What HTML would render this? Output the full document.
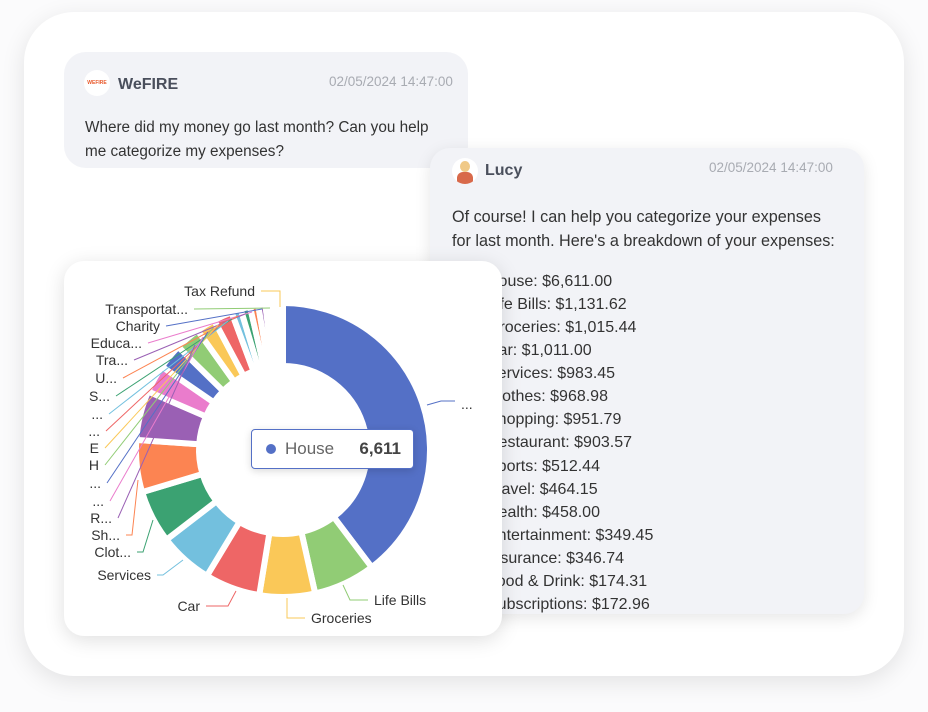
<!DOCTYPE html>
<html><head><meta charset="utf-8"><style>
body{margin:0;width:928px;height:712px;background:#fbfbfc;font-family:"Liberation Sans",sans-serif;position:relative;overflow:hidden}
.outer{position:absolute;left:24px;top:12px;width:880px;height:664px;background:#fff;border-radius:50px;box-shadow:0 6px 24px rgba(0,0,0,0.10)}
.b1{position:absolute;left:64px;top:52px;width:404px;height:116px;background:#f2f3f7;border-radius:22px}
.b2{position:absolute;left:430px;top:148px;width:434px;height:466px;background:#f2f3f7;border-radius:20px;box-shadow:0 4px 16px rgba(0,0,0,0.10);overflow:hidden}
.name{position:absolute;font-size:16px;font-weight:bold;color:#4a4f5c}
.time{position:absolute;font-size:13.5px;color:#a8abb2}
.msg{position:absolute;font-size:15.3px;color:#333;line-height:24px;white-space:nowrap}
.av{position:absolute;width:26px;height:26px;border-radius:50%;background:#fff}
.list div{height:23.07px;line-height:23.07px}
.card{position:absolute;left:64px;top:261px;width:438px;height:375px;background:#fff;border-radius:20px;box-shadow:0 4px 20px rgba(0,0,0,0.13)}
svg{position:absolute;left:0;top:0}
.tt{position:absolute;left:251px;top:429px;width:161px;height:38px;border:1px solid #5470c6;border-radius:4px;background:#fff;box-shadow:0 2px 8px rgba(0,0,0,0.15);font-size:17px}
</style></head><body>
<div class="outer"></div>
<div class="b1">
 <div class="av" style="left:20px;top:18px;font-size:5px;color:#e8582a;text-align:center;line-height:26px;font-weight:bold">WEFIRE</div>
 <div class="name" style="left:54px;top:24px">WeFIRE</div>
 <div class="time" style="left:265px;top:22px">02/05/2024 14:47:00</div>
 <div class="msg" style="left:21px;top:64px">Where did my money go last month? Can you help<br>me categorize my expenses?</div>
</div>
<div class="b2">
 <div class="av" style="left:22px;top:10px;overflow:hidden"><div style="position:absolute;left:8px;top:3px;width:10px;height:11px;border-radius:50%;background:#f0c987"></div><div style="position:absolute;left:5px;top:14px;width:16px;height:14px;border-radius:6px 6px 0 0;background:#d8694a"></div></div>
 <div class="name" style="left:55px;top:14px">Lucy</div>
 <div class="time" style="left:279px;top:12px">02/05/2024 14:47:00</div>
 <div class="msg" style="left:22px;top:57px;font-size:16.2px">Of course! I can help you categorize your expenses<br>for last month. Here's a breakdown of your expenses:</div>
 <div class="msg list" style="left:57px;top:122px;font-size:16px">
 <div>House: $6,611.00</div><div>Life Bills: $1,131.62</div><div>Groceries: $1,015.44</div><div>Car: $1,011.00</div><div>Services: $983.45</div><div>Clothes: $968.98</div><div>Shopping: $951.79</div><div>Restaurant: $903.57</div><div>Sports: $512.44</div><div>Travel: $464.15</div><div>Health: $458.00</div><div>Entertainment: $349.45</div><div>Insurance: $346.74</div><div>Food &amp; Drink: $174.31</div><div>Subscriptions: $172.96</div>
 </div>
</div>
<div class="card"></div>
<svg id="s" width="928" height="712"></svg>
<div class="tt"><span style="position:absolute;left:14px;top:14px;width:10px;height:10px;border-radius:50%;background:#5470c6"></span><span style="position:absolute;left:33px;top:9px;color:#666">House</span><span style="position:absolute;right:12px;top:9px;font-weight:bold;color:#444">6,611</span></div>
<script>
var vals=[6611,1131.62,1015.44,1011,983.45,968.98,951.79,903.57,512.44,464.15,458,349.45,346.74,174.31,172.96,150,130,110,90,70,50];
var cols=["#5470c6","#91cc75","#fac858","#ee6666","#73c0de","#3ba272","#fc8452","#9a60b4","#ea7ccc"];
var tot=vals.reduce((a,b)=>a+b,0),cx=283,cy=450,R=147,r=84,a=0,h='';
function P(rad,ang){return [cx+rad*Math.sin(ang),cy-rad*Math.cos(ang)]}
vals.forEach(function(v,i){var s=a,e=a+v/tot*2*Math.PI;a=e;
 var p1=P(R,s),p2=P(R,e),p3=P(r,e),p4=P(r,s),l=(e-s)>Math.PI?1:0;
 h+='<path d="M'+p1+' A'+R+' '+R+' 0 '+l+' 1 '+p2+' L'+p3+' A'+r+' '+r+' 0 '+l+' 0 '+p4+'Z" fill="'+cols[i%9]+'" stroke="#fff" stroke-width="6" stroke-linejoin="round"/>';});
var L=[["Tax Refund",255,291],["Transportat...",188,309],["Charity",160,326],["Educa...",142,343],["Tra...",128,360],["U...",117,378],["S...",110,396],["...",103,414],["...",100,431],["E",99,448],["H",99,465],["...",101,483],["...",104,501],["R...",112,518],["Sh...",120,535],["Clot...",131,552],["Services",151,575]];
var T=[[280,306],[270,308],[262,309],[252,312],[245,314],[238,316],[232,319],[228,321],[222,323],[218,325],[213,328],[208,332],[203,337],[195,345],[138,480],[153,520],[183,560]];
L.forEach(function(t,i){var c=cols[(20-i)%9];
 h+='<text x="'+t[1]+'" y="'+(t[2]+5)+'" text-anchor="end" font-size="14" fill="#333" font-family="Liberation Sans,sans-serif">'+t[0]+'</text>';
 var x0=t[1]+6,y0=t[2];
 if(i==0)h+='<polyline points="'+x0+','+y0+' 280,291 280,307" fill="none" stroke="'+c+'"/>';
 else if(i>=14)h+='<polyline points="'+x0+','+y0+' '+(x0+6)+','+y0+' '+T[i]+'" fill="none" stroke="'+c+'"/>';
 else h+='<line x1="'+x0+'" y1="'+y0+'" x2="'+T[i][0]+'" y2="'+T[i][1]+'" stroke="'+c+'"/>';});
h+='<polyline points="206,606 228,606 236,591" fill="none" stroke="#ee6666"/><text x="200" y="611" text-anchor="end" font-size="14" fill="#333">Car</text>';
h+='<polyline points="305,618 287,618 287,598" fill="none" stroke="#fac858"/><text x="311" y="623" font-size="14" fill="#333">Groceries</text>';
h+='<polyline points="368,600 350,600 343,585" fill="none" stroke="#91cc75"/><text x="374" y="605" font-size="14" fill="#333">Life Bills</text>';
h+='<polyline points="427,405 441,401 455,401" fill="none" stroke="#5470c6"/><text x="461" y="409" font-size="14" fill="#333">...</text>';
document.getElementById('s').innerHTML=h;
</script>
</body></html>
